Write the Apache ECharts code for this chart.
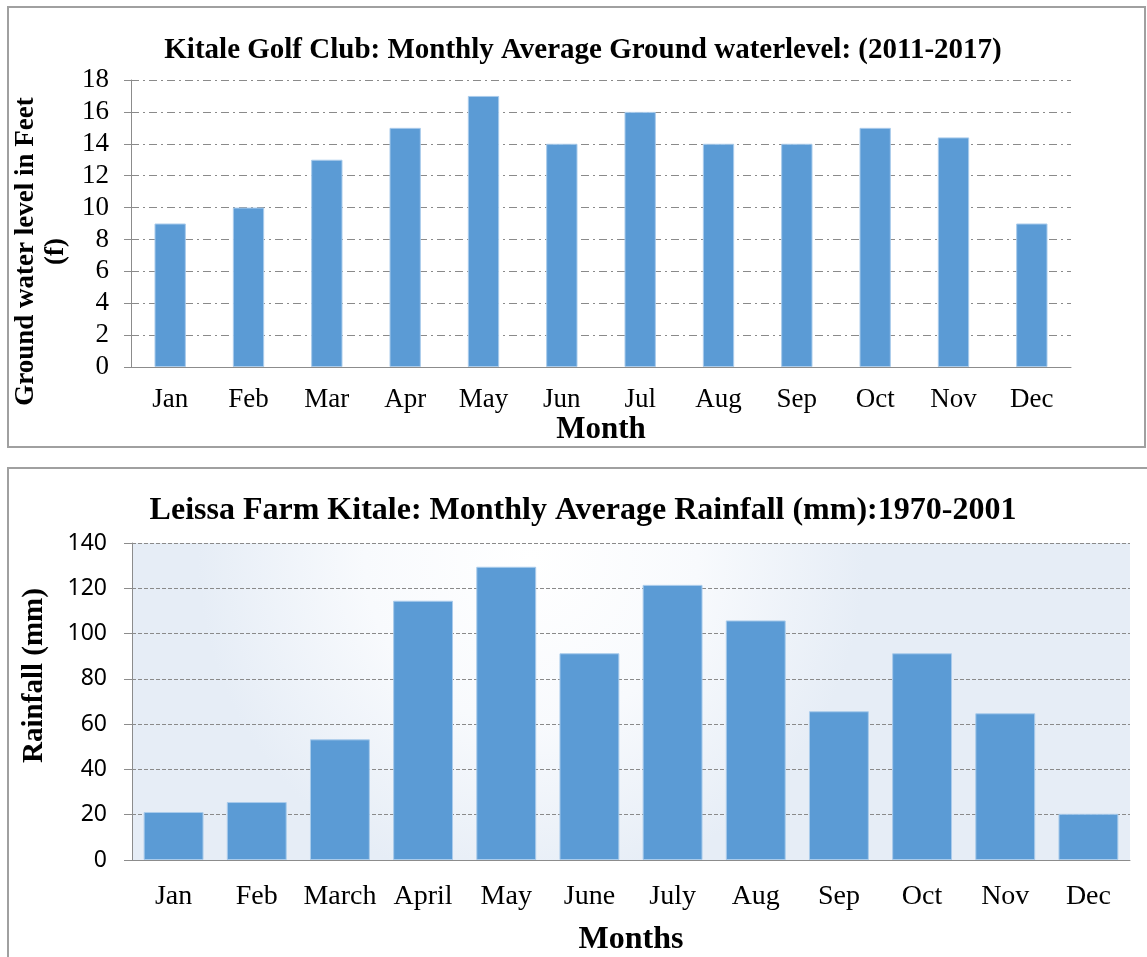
<!DOCTYPE html>
<html>
<head>
<meta charset="utf-8">
<title>Kitale groundwater and rainfall</title>
<script src="https://cdn.jsdelivr.net/npm/echarts@6/dist/echarts.min.js"></script>
<style>
  html, body { margin: 0; padding: 0; background: #fff; }
  #chart { width: 1147px; height: 957px; }
</style>
</head>
<body>
<div id="chart"></div>
<script>
// top chart: ground water level (feet)
var waterMonths = ['Jan', 'Feb', 'Mar', 'Apr', 'May', 'Jun', 'Jul', 'Aug', 'Sep', 'Oct', 'Nov', 'Dec']
var waterLevel = [9, 10, 13, 15, 17, 14, 16, 14, 14, 15, 14.4, 9]

// bottom chart: rainfall (mm)
var rainMonths = ['Jan', 'Feb', 'March', 'April', 'May', 'June', 'July', 'Aug', 'Sep', 'Oct', 'Nov', 'Dec']
var rainfall = [21.2, 25.6, 53.3, 114.5, 129.5, 91.3, 121.5, 105.8, 65.7, 91.3, 64.8, 20.4]

var serif = '"Liberation Serif", "Times New Roman", serif'
var sans = '"Noto Sans", "Open Sans", sans-serif'
var barColor = '#5b9bd5'
var axisGray = '#8c8c8c'

var chart = echarts.init(document.getElementById('chart'))

var option = {
  backgroundColor: '#fff',
  animation: false,
  graphic: [
    { type: 'rect', shape: { x: 8, y: 7, width: 1137, height: 440 }, style: { fill: 'none', stroke: '#a0a0a0', lineWidth: 2 } },
    { type: 'rect', shape: { x: 8, y: 468, width: 1150, height: 510 }, style: { fill: 'none', stroke: '#a0a0a0', lineWidth: 2 } }
  ],
  title: [
    {
      text: 'Kitale Golf Club: Monthly Average Ground waterlevel: (2011-2017)',
      left: 578, top: 31, textAlign: 'center',
      textStyle: { fontFamily: serif, fontSize: 29, fontWeight: 'bold', color: '#000' }
    },
    {
      text: 'Leissa Farm Kitale: Monthly Average Rainfall (mm):1970-2001',
      left: 578, top: 490, textAlign: 'center',
      textStyle: { fontFamily: serif, fontSize: 32, fontWeight: 'bold', color: '#000' }
    }
  ],
  grid: [
    { left: 131, right: 76, top: 80, bottom: 590 },
    {
      left: 132, right: 17, top: 543, bottom: 96,
      show: true, borderWidth: 0,
      backgroundColor: {
        type: 'radial', x: 0.4, y: 0.05, r: 1.05,
        colorStops: [
          { offset: 0, color: '#ffffff' },
          { offset: 0.5, color: '#f8fafd' },
          { offset: 1, color: '#e6edf6' }
        ]
      }
    }
  ],
  xAxis: [
    {
      type: 'category', gridIndex: 0, data: waterMonths,
      name: 'Month', nameLocation: 'middle', nameGap: 47,
      nameTextStyle: { fontFamily: serif, fontSize: 31, fontWeight: 'bold', color: '#000' },
      axisLine: { lineStyle: { color: axisGray } },
      axisTick: { length: 7, lineStyle: { color: axisGray } },
      axisLabel: { fontFamily: serif, fontSize: 27, color: '#000', margin: 19, interval: 0 }
    },
    {
      type: 'category', gridIndex: 1, data: rainMonths,
      name: 'Months', nameLocation: 'middle', nameGap: 64,
      nameTextStyle: { fontFamily: serif, fontSize: 32, fontWeight: 'bold', color: '#000' },
      axisLine: { lineStyle: { color: axisGray } },
      axisTick: { length: 8, lineStyle: { color: axisGray } },
      axisLabel: { fontFamily: serif, fontSize: 28, color: '#000', margin: 23, interval: 0 }
    }
  ],
  yAxis: [
    {
      type: 'value', gridIndex: 0, min: 0, max: 18, interval: 2,
      name: 'Ground water level in Feet\n(f)', nameLocation: 'middle', nameGap: 55,
      nameTextStyle: {
        fontFamily: serif, fontSize: 27, fontWeight: 'bold', color: '#000', lineHeight: 30,
        padding: [0, 56, 0, 0]
      },
      axisLine: { show: true, lineStyle: { color: axisGray } },
      axisTick: { show: true, length: 7, lineStyle: { color: axisGray } },
      axisLabel: { fontFamily: serif, fontSize: 27, color: '#000', margin: 22 },
      splitLine: { lineStyle: { color: '#8a8a8a', width: 1, type: [8, 4, 2, 4] } }
    },
    {
      type: 'value', gridIndex: 1, min: 0, max: 140, interval: 20,
      name: 'Rainfall (mm)', nameLocation: 'middle', nameGap: 83,
      nameTextStyle: {
        fontFamily: serif, fontSize: 29, fontWeight: 'bold', color: '#000',
        padding: [0, 0, 0, 52]
      },
      axisLine: { show: true, lineStyle: { color: axisGray } },
      axisTick: { show: true, length: 8, lineStyle: { color: axisGray } },
      axisLabel: { fontFamily: sans, fontSize: 23, color: '#000', margin: 25 },
      splitLine: { lineStyle: { color: '#8a8a8a', width: 1, type: [4, 2] } }
    }
  ],
  series: [
    {
      type: 'bar', xAxisIndex: 0, yAxisIndex: 0, data: waterLevel,
      barWidth: '40%',
      itemStyle: { color: barColor, borderColor: '#a9cbeb', borderWidth: 1 }
    },
    {
      type: 'bar', xAxisIndex: 1, yAxisIndex: 1, data: rainfall,
      barWidth: '72%',
      itemStyle: { color: barColor, borderColor: '#a9cbeb', borderWidth: 1 }
    }
  ]
}

chart.setOption(option)
</script>
</body>
</html>
